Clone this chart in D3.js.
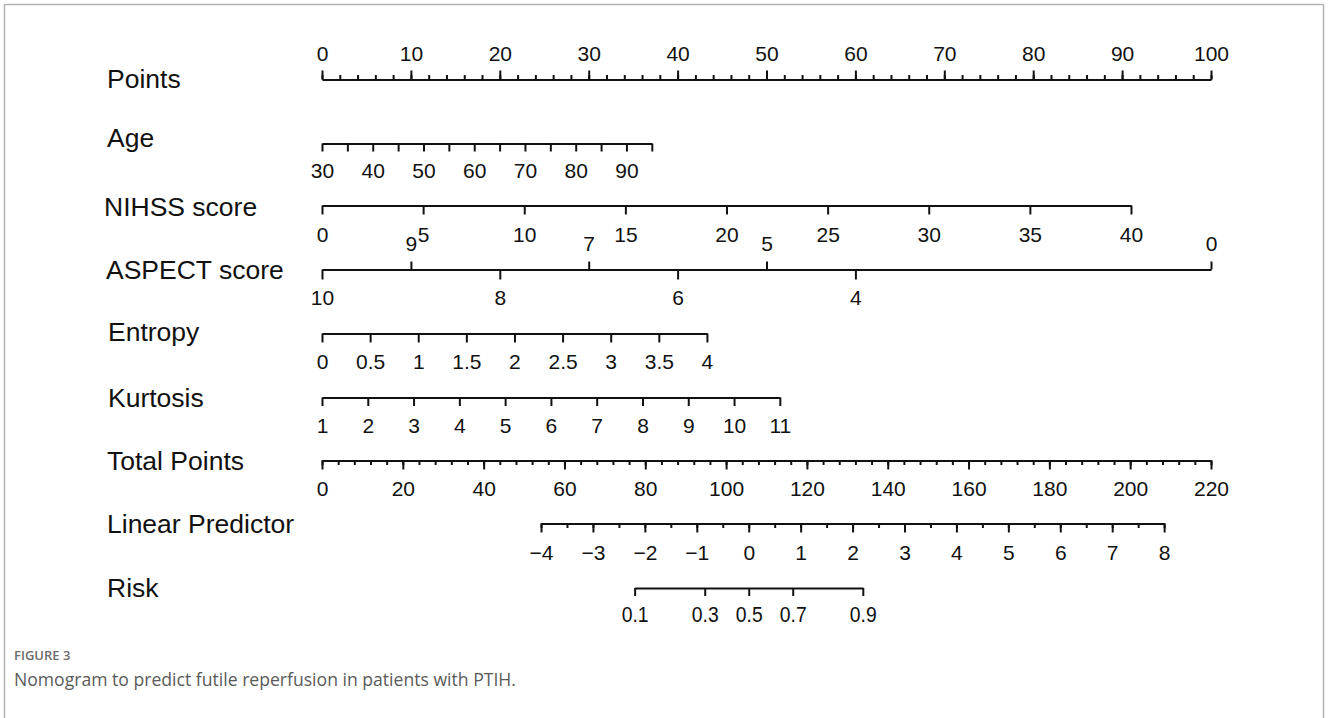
<!DOCTYPE html>
<html>
<head>
<meta charset="utf-8">
<title>Nomogram</title>
<script src="https://cdn.jsdelivr.net/npm/d3@7"></script>
<style>
  body { margin: 0; background: #fff; }
  .axis path, .axis line { stroke: #111; stroke-width: 2; }
  .axis text { font-family: "Liberation Sans", Arial, sans-serif; font-size: 21px; fill: #111; }
  .row-label { font-family: "Liberation Sans", Arial, sans-serif; font-size: 26.5px; fill: #111; }
</style>
</head>
<body>
<script>
// row titles
const rowLabels = ["Points", "Age", "NIHSS score", "ASPECT score", "Entropy", "Kurtosis", "Total Points", "Linear Predictor", "Risk"];
const labelX = [107, 107, 104, 106, 108, 108, 107, 107, 107];
const labelY = [88, 147, 216, 279, 341, 407, 470, 533, 597];

// tick values per axis
const pointsTicks = [0, 10, 20, 30, 40, 50, 60, 70, 80, 90, 100];
const ageTicks = [30, 35, 40, 45, 50, 55, 60, 65, 70, 75, 80, 85, 90, 95];
const ageLabels = [30, 40, 50, 60, 70, 80, 90];
const nihssTicks = [0, 5, 10, 15, 20, 25, 30, 35, 40];
const aspectDown = [10, 8, 6, 4];
const aspectUp = [9, 7, 5, 0];
const entropyTicks = [0, 0.5, 1, 1.5, 2, 2.5, 3, 3.5, 4];
const kurtosisTicks = [1, 2, 3, 4, 5, 6, 7, 8, 9, 10, 11];
const totalTicks = [0, 20, 40, 60, 80, 100, 120, 140, 160, 180, 200, 220];
const lpTicks = [-4, -3, -2, -1, 0, 1, 2, 3, 4, 5, 6, 7, 8];
const riskTicks = [0.1, 0.3, 0.5, 0.7, 0.9];

// value ranges and the points they map to
const ageRange = [30, 95], agePoints = [0, 37.1];
const nihssRange = [0, 40], nihssPoints = [0, 91.0];
const aspectRange = [10, 0], aspectPoints = [0, 100];
const entropyRange = [0, 4], entropyPoints = [0, 43.3];
const kurtosisRange = [1, 11], kurtosisPoints = [0, 51.5];
const totalRange = [0, 220];
const lpRange = [-4, 8], lpTotal = [54.2, 208.4];

const width = 1328, height = 718;

const svg = d3.select("body").append("svg")
    .attr("width", width)
    .attr("height", height);

// frame
svg.append("rect")
    .attr("x", 4.5).attr("y", 4.5)
    .attr("width", 1319).attr("height", 800)
    .attr("fill", "none")
    .attr("stroke", "#b5b5b5")
    .attr("stroke-width", 1.5);

const x = d3.scaleLinear().domain([0, 100]).range([322, 1211]);
const xTotal = d3.scaleLinear().domain(totalRange).range([322, 1211]);
const xAge = d3.scaleLinear().domain(ageRange).range(agePoints.map(x));
const xNihss = d3.scaleLinear().domain(nihssRange).range(nihssPoints.map(x));
const xAspect = d3.scaleLinear().domain(aspectRange).range(aspectPoints.map(x));
const xEntropy = d3.scaleLinear().domain(entropyRange).range(entropyPoints.map(x));
const xKurt = d3.scaleLinear().domain(kurtosisRange).range(kurtosisPoints.map(x));
const xLp = d3.scaleLinear().domain(lpRange).range(lpTotal.map(xTotal));
const logit = p => Math.log(p / (1 - p));
const riskLogits = riskTicks.map(logit);
const xRisk = d3.scaleLinear()
    .domain([riskLogits[0], riskLogits[riskLogits.length - 1]])
    .range([xLp(riskLogits[0]), xLp(riskLogits[riskLogits.length - 1])]);

const fmt = d => d < 0 ? "\u2212" + (-d) : String(d);

// draws one axis; labels are placed on an absolute baseline
function drawAxis(scale, y, values, opts) {
    const up = opts.up;
    const ax = (up ? d3.axisTop(scale) : d3.axisBottom(scale))
        .tickValues(values)
        .tickSize(opts.size)
        .tickSizeOuter(0)
        .tickFormat(opts.format || fmt);
    const g = svg.append("g")
        .attr("class", "axis")
        .attr("transform", `translate(0,${y})`)
        .call(ax);
    if (opts.noDomain) g.select(".domain").remove();
    g.selectAll("text")
        .attr("y", opts.base - y)
        .attr("dy", null)
        .text(function(d) {
            if (opts.labels && !opts.labels.includes(d)) return "";
            return opts.format ? opts.format(d) : fmt(d);
        });
    if (opts.noText) g.selectAll("text").remove();
    return g;
}

// Points
drawAxis(x, 79.5, d3.range(0, 101, 2), { up: true, size: 4.5, noText: true });
drawAxis(x, 79.5, pointsTicks, { up: true, size: 9, base: 61, noDomain: true });

// Age
drawAxis(xAge, 143.5, ageTicks, { size: 8, base: 178, labels: ageLabels });

// NIHSS
drawAxis(xNihss, 205.5, nihssTicks, { size: 9, base: 242 });

// ASPECT
drawAxis(xAspect, 269.5, aspectDown, { size: 10, base: 305 });
drawAxis(xAspect, 269.5, aspectUp, { up: true, size: 8, base: 251, noDomain: true });

// Entropy
drawAxis(xEntropy, 333.5, entropyTicks, { size: 9, base: 369 });

// Kurtosis
drawAxis(xKurt, 397.5, kurtosisTicks, { size: 8.5, base: 432.5 });

// Total Points
drawAxis(xTotal, 460.5, d3.range(0, 221, 4), { size: 4.5, noText: true });
drawAxis(xTotal, 460.5, totalTicks, { size: 9, base: 496, noDomain: true });

// Linear Predictor
drawAxis(xLp, 523.5, d3.range(-4, 8.01, 0.5), { size: 4.5, noText: true });
drawAxis(xLp, 523.5, lpTicks, { size: 9, base: 560, noDomain: true });

// Risk
const riskAxis = drawAxis(xRisk, 588, riskLogits, {
    size: 8, base: 622,
    format: d => String(riskTicks[riskLogits.indexOf(d)])
});
riskAxis.selectAll("text")
    .style("font-size", "22px")
    .attr("transform", "scale(0.88,1)");

// row labels
svg.selectAll("text.row-label")
    .data(rowLabels)
    .enter()
    .append("text")
    .attr("class", "row-label")
    .attr("x", (d, i) => labelX[i])
    .attr("y", (d, i) => labelY[i])
    .text(d => d);

// caption
svg.append("text")
    .attr("x", 14).attr("y", 660)
    .attr("fill", "#6b6b6b")
    .style("font-family", "'Open Sans', sans-serif")
    .style("font-size", "13px")
    .style("font-weight", 600)
    .text("FIGURE 3");

svg.append("text")
    .attr("x", 14).attr("y", 686)
    .attr("fill", "#5a5a5a")
    .style("font-family", "'Open Sans', sans-serif")
    .style("font-size", "17.6px")
    .text("Nomogram to predict futile reperfusion in patients with PTIH.");
</script>
</body>
</html>
